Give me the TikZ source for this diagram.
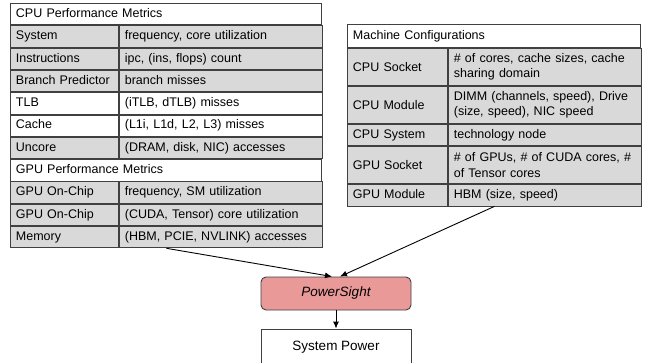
\documentclass[tikz,border=0pt]{standalone}
\usepackage{fontspec}
\setmainfont{Liberation Sans}
\usetikzlibrary{calc,arrows.meta,positioning}
\definecolor{cellgray}{HTML}{D9D9D9}
\definecolor{gridline}{HTML}{404040}
\definecolor{psred}{HTML}{EA9999}

\begin{document}
\begin{tikzpicture}[x=1pt,y=-1pt,>={Latex[length=7pt,width=6pt]},line width=0.9pt]
	\tikzset{cell/.style={draw=gridline, rectangle, align=left, inner xsep=5.5pt, inner ysep=0pt, font=\fontsize{12.5}{15.5}\selectfont},
		oneline/.style={text height=9pt, text depth=2.5pt},
		shaded/.style={fill=cellgray},
		ltitle/.style={cell, oneline, fill=white, text width=300pt, minimum height=21.4pt},
		lkey/.style={cell, oneline, text width=97pt, minimum height=21.4pt},
		lval/.style={cell, oneline, text width=192pt, minimum height=21.4pt},
		rtitle/.style={cell, oneline, fill=white, text width=282pt, minimum height=23pt},
		rkey/.style={cell, shaded, text width=89pt, minimum height=#1},
		rval/.style={cell, shaded, text width=182pt, minimum height=#1},
		block/.style={draw=gridline, rectangle, align=center, minimum width=150pt, font=\fontsize{13.5}{16}\selectfont},
	}
	\useasboundingbox (0,0) rectangle (646,362);

	% CPU / GPU metrics table
	\node [ltitle, anchor=north west] (cpuhdr) at (10,3) {CPU Performance Metrics};
	\node [lkey, shaded, below right = 0pt of cpuhdr.south west] (syskey) {System};
	\node [lval, shaded, right = 0pt of syskey] (sysval) {frequency, core utilization};
	\node [lkey, shaded, below = 0pt of syskey] (inskey) {Instructions};
	\node [lval, shaded, right = 0pt of inskey] (insval) {ipc, (ins, flops) count};
	\node [lkey, shaded, below = 0pt of inskey] (brkey) {Branch Predictor};
	\node [lval, shaded, right = 0pt of brkey] (brval) {branch misses};
	\node [lkey, below = 0pt of brkey] (tlbkey) {TLB};
	\node [lval, right = 0pt of tlbkey] (tlbval) {(iTLB, dTLB) misses};
	\node [lkey, below = 0pt of tlbkey] (cachekey) {Cache};
	\node [lval, right = 0pt of cachekey] (cacheval) {(L1i, L1d, L2, L3) misses};
	\node [lkey, shaded, below = 0pt of cachekey] (uncorekey) {Uncore};
	\node [lval, shaded, right = 0pt of uncorekey] (uncoreval) {(DRAM, disk, NIC) accesses};
	\node [ltitle, below right = 0pt of uncorekey.south west] (gpuhdr) {GPU Performance Metrics};
	\node [lkey, shaded, below right = 0pt of gpuhdr.south west] (smkey) {GPU On-Chip};
	\node [lval, shaded, right = 0pt of smkey] (smval) {frequency, SM utilization};
	\node [lkey, shaded, below = 0pt of smkey] (tckey) {GPU On-Chip};
	\node [lval, shaded, right = 0pt of tckey] (tcval) {(CUDA, Tensor) core utilization};
	\node [lkey, shaded, below = 0pt of tckey] (memkey) {Memory};
	\node [lval, shaded, right = 0pt of memkey] (memval) {(HBM, PCIE, NVLINK) accesses};

	% machine configuration table
	\node [rtitle, anchor=north west] (mchdr) at (347,24) {Machine Configurations};
	\node [rkey=37pt, below right = 0pt of mchdr.south west] (csockkey) {CPU Socket};
	\node [rval=37pt, right = 0pt of csockkey] (csockval) {\# of cores, cache sizes, cache\\sharing domain};
	\node [rkey=37pt, below = 0pt of csockkey] (cmodkey) {CPU Module};
	\node [rval=37pt, right = 0pt of cmodkey] (cmodval) {DIMM (channels, speed), Drive\\(size, speed), NIC speed};
	\node [rkey=21.5pt, oneline, below = 0pt of cmodkey] (csyskey) {CPU System};
	\node [rval=21.5pt, oneline, right = 0pt of csyskey] (csysval) {technology node};
	\node [rkey=37pt, below = 0pt of csyskey] (gsockkey) {GPU Socket};
	\node [rval=37pt, right = 0pt of gsockkey] (gsockval) {\# of GPUs, \# of CUDA cores, \#\\of Tensor cores};
	\node [rkey=21.5pt, oneline, below = 0pt of gsockkey] (gmodkey) {GPU Module};
	\node [rval=21.5pt, oneline, right = 0pt of gmodkey] (gmodval) {HBM (size, speed)};

	% model and output
	\node [block, fill=psred, rounded corners=5pt, minimum height=33pt] (ps) at (336,293.5) {\itshape PowerSight};
	\node [block, fill=white, minimum height=36pt] (syspow) at (336,347) {System Power};

	\coordinate (metrics) at ($(memkey.south west)!0.5!(memval.south east)$);
	\coordinate (config) at ($(gmodkey.south west)!0.5!(gmodval.south east)$);
	\path[draw, ->] (metrics) -- ([xshift=-4pt]ps.north);
	\path[draw, ->] (config) -- ([xshift=4pt]ps.north);
	\path[draw, ->] (ps) -- (syspow);
\end{tikzpicture}
\end{document}
